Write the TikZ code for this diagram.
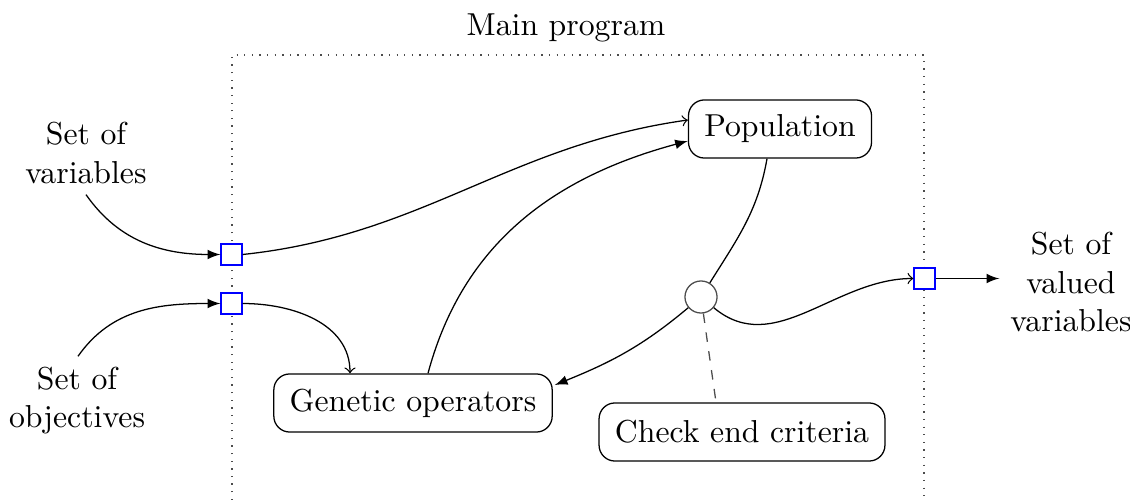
\documentclass[tikz,border=0pt]{standalone}
\usetikzlibrary{arrows,calc}
\begin{document}
\begin{tikzpicture}[x=0.315pt,y=-0.315pt,
 box/.style={draw, rounded corners=5pt, inner xsep=5pt, minimum height=18.3pt},
 port/.style={draw=blue, minimum size=6.6pt, inner sep=0pt, fill=white},
 lbl/.style={align=center},
 fr/.style={dotted, black!70}]
\useasboundingbox (0,0) rectangle (1130,500);
\node (title) at (566,28) {Main program};
\coordinate (tl) at (232,55);
\coordinate (tr) at (924,55);
\coordinate (bl) at (232,500);
\coordinate (br) at (924,500);
\draw[fr] (bl) -- (tl) -- (tr) -- (br);
\node[box] (pop) at (780,129) {Population};
\node[box] (gen) at (413,403) {Genetic operators};
\node[box] (chk) at (742,432) {Check end criteria};
\node[circle, draw=black!70, minimum size=10.1pt, inner sep=0pt] (c) at (701,297) {};
\node[port] (p1) at (231.5,254.5) {};
\node[port] (p2) at (231.5,303.5) {};
\node[port] (p3) at (924.5,278.5) {};
\node[lbl] (vars) at (86,153) {Set of\\variables};
\node[lbl] (obj) at (77,401) {Set of\\objectives};
\node[lbl] (out) at (1071,282) {Set of\\valued\\variables};
\draw[-latex] (vars.south) to[out=-55,in=180] (p1.west);
\draw[-latex] ($(obj.north)+(1,0)$) to[out=55,in=180] (p2.west);
\draw[->] (p1.east) to[out=6,in=-172] ($(pop.west)+(0,-9)$);
\draw[-latex] ($(gen.north)+(15,0)$) to[out=75,in=-165] ($(pop.west)+(0,12)$);
\draw[->] (p2.east) to[out=0,in=90] ($(gen.north)+(-63,0)$);
\draw ($(pop.south)+(-13,0)$) to[out=-100,in=58] (c);
\draw[-latex] (c) to[out=-140,in=22] ($(gen.east)+(2,-18)$);
\draw[->] (c) to[out=-40,in=180] (p3.west);
\draw[-latex] (p3.east) -- (p3.east -| out.west);
\draw[dashed, black!70] (c) -- ($(chk.north)+(-26,0)$);
\end{tikzpicture}
\end{document}
